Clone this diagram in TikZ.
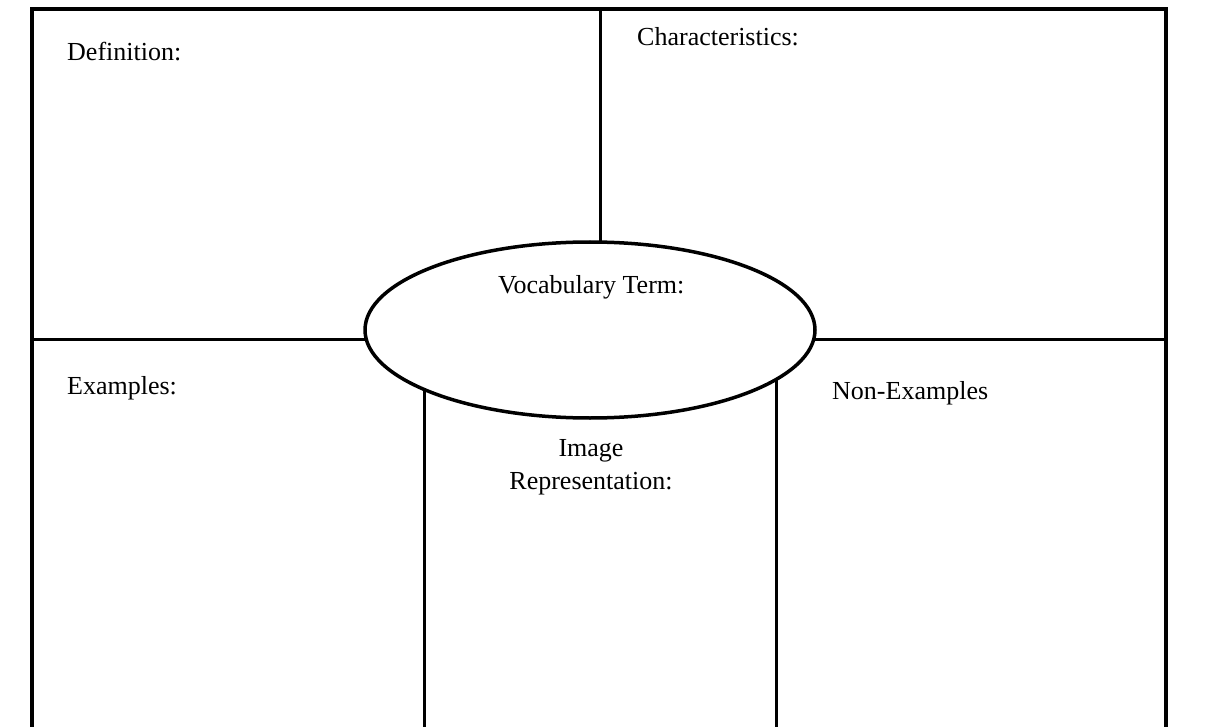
\documentclass[tikz,border=0pt]{standalone}
\usepackage{fontspec}
\setmainfont{Liberation Serif}
\usetikzlibrary{shapes.geometric}
\tikzset{
  frameline/.style={line width=4.5pt,black},
  innerline/.style={line width=3pt,black},
  vocab/.style={ellipse,draw=black,line width=3.5pt,fill=white,minimum width=450pt,minimum height=176pt,inner sep=0pt},
  lbl/.style={anchor=base west,inner sep=0pt,font=\fontsize{26}{30}\selectfont},
  clbl/.style={anchor=base,inner sep=0pt,font=\fontsize{26}{30}\selectfont}
}
\begin{document}
\begin{tikzpicture}[x=1pt,y=-1pt]
\useasboundingbox (0,0) rectangle (1207,727);
\clip (0,0) rectangle (1207,727);
% frame corners and line ends
\coordinate (bl) at (32,740);
\coordinate (tl) at (32,9);
\coordinate (tr) at (1166,9);
\coordinate (br) at (1166,740);
\coordinate (topmid) at (600,9);
\coordinate (midl) at (32,339);
\coordinate (midr) at (1166,339);
\coordinate (lowl) at (424,740);
\coordinate (lowr) at (776,740);
\coordinate (vc) at (590,330);
% dividing lines (run into the ellipse centre, covered by its white fill)
\draw[innerline] (topmid) -- (topmid |- vc);
\draw[innerline] (midl) -- (midl -| vc);
\draw[innerline] (midr) -- (midr -| vc);
\draw[innerline] (lowl) -- (lowl |- vc);
\draw[innerline] (lowr) -- (lowr |- vc);
% vocabulary ellipse
\node[vocab] (voc) at (vc) {};
\draw[frameline,line join=miter] (bl) -- (tl) -- (tr) -- (br);
% labels
\node[lbl] (def) at (67,61) {Definition:};
\node[lbl] (cha) at (637,46) {Characteristics:};
\node[lbl] (voct) at (498,294) {Vocabulary Term:};
\node[lbl] (exa) at (67,394) {Examples:};
\node[lbl] (non) at (832,399) {Non-Examples};
\node[clbl] (img1) at (591,456) {Image};
\node[clbl] (img2) at (591,489) {Representation:};
\end{tikzpicture}
\end{document}
